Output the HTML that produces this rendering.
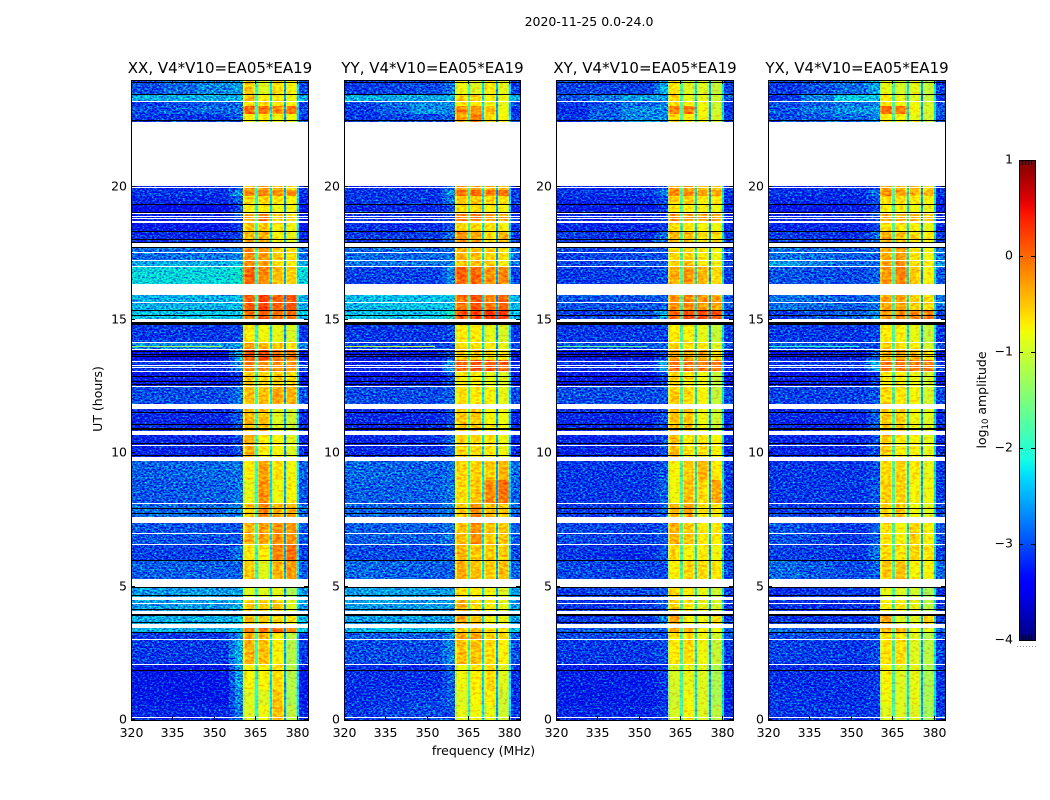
<!DOCTYPE html>
<html>
<head>
<meta charset="utf-8">
<title>2020-11-25 0.0-24.0</title>
<style>
html,body{margin:0;padding:0;background:#fff;width:1050px;height:800px;overflow:hidden}
svg{display:block}
text{font-family:"DejaVu Sans","Liberation Sans",sans-serif;fill:#000}
</style>
</head>
<body>
<svg id="figure" width="1050" height="800" viewBox="0 0 1050 800" xmlns="http://www.w3.org/2000/svg">
  <defs>
    <filter id="speckle" x="0" y="0" width="1" height="1" color-interpolation-filters="sRGB">
      <feTurbulence type="fractalNoise" baseFrequency="0.42 0.62" numOctaves="2" seed="7" result="n"/>
      <feColorMatrix in="n" type="matrix" values="0 0 0 0 .5  1 0 0 0 0  0 0 0 0 .5  0 0 0 0 1" result="g"/>
      <feComposite in="SourceGraphic" in2="g" operator="arithmetic" k1="0" k2="1" k3="2" k4="-1.1" result="m"/>
      <feComposite in="m" in2="SourceAlpha" operator="in"/>
    </filter>
    <filter id="speckle-soft" x="0" y="0" width="1" height="1" color-interpolation-filters="sRGB">
      <feTurbulence type="fractalNoise" baseFrequency="0.25 0.4" numOctaves="2" seed="11" result="n"/>
      <feColorMatrix in="n" type="matrix" values="0 0 0 0 .5  1 0 0 0 0  0 0 0 0 .5  0 0 0 0 1" result="g"/>
      <feComposite in="SourceGraphic" in2="g" operator="arithmetic" k1="0" k2="1" k3="0.8" k4="-0.4" result="m"/>
      <feComposite in="m" in2="SourceAlpha" operator="in"/>
    </filter>
    <linearGradient id="cbar-gradient" x1="0" y1="1" x2="0" y2="0"></linearGradient>
  </defs>
  <text x="589" y="26" font-size="12.5" text-anchor="middle">2020-11-25 0.0-24.0</text>
  <text transform="translate(102,399) rotate(-90)" font-size="12.5" text-anchor="middle">UT (hours)</text>
  <text x="483.5" y="755" font-size="12.5" text-anchor="middle">frequency (MHz)</text>
  <text transform="translate(986,400) rotate(-90)" font-size="12.5" text-anchor="middle">log<tspan font-size="8.5" dy="2">10</tspan><tspan dy="-2"> amplitude</tspan></text>
  <g id="panels"></g>
  <g id="colorbar"></g>
</svg>
<script>
// ---- chart data ----
const polarizations = ["XX", "YY", "XY", "YX"];
const baselineLabel = ", V4*V10=EA05*EA19";
const freqTicks = [320, 335, 350, 365, 380];
const hourTicks = [0, 5, 10, 15, 20];
const cbarTicks = [1, 0, -1, -2, -3, -4];

// time rows (UT hours); anything not covered stays white (flagged)
const rowStart = [0,.56,1.125,2.1,3.0,3.3,3.6,4.09,4.61,5.29,6.0,6.6,7.61,8.14,9.0,9.86,10.84,11.85,12.525,13.09,13.5,13.91,14.175,15.04,15.34,16.35,16.99,17.25,17.93,18.34,18.675,19.05,19.35,19.65,19.875,22.43,22.73,23.03,23.21,23.475];
const rowEnd = [.56,1.125,2.1,3.0,3.3,3.45,3.975,4.5,4.99,6.0,6.6,7.39,8.14,9.0,9.71,10.69,11.66,12.525,13.09,13.5,13.91,14.175,14.81,15.34,15.94,16.99,17.25,17.74,18.34,18.675,19.05,19.35,19.65,19.875,20.03,22.73,23.03,23.21,23.475,24];

// frequency columns (MHz); each shows the mean of two row values (sources A and B) plus a shape offset
const colStart = [320,332,344,355.5,357.5,360.5,361.1,364.4,365,365.8,366.3,369.7,370.2,371,371.5,374.7,375.2,376,376.5,379.5,380,380.6];
const colEnd = [332,344,355.5,357.5,360.5,361.1,364.4,365,365.8,366.3,369.7,370.2,371,371.5,374.7,375.2,376,376.5,379.5,380,380.6,384];
const colSourceA = [0,0,1,1,2,3,3,3,-1,4,4,4,-1,5,5,5,-1,6,6,6,-1,0];
const colSourceB = [0,1,1,2,2,3,3,3,-1,4,4,4,-1,5,5,5,-1,6,6,6,-1,0];
const colOffset = [0,0,0,0,0,-.3,0,-.2,-1.9,-.25,0,-.2,-2.3,-.25,0,-.2,-2.6,-.25,0,-.2,-2.3,0];

// log10 amplitude per row: bg 320-338, bg 338-355, bg 355-360, spw1, spw2, spw3, spw4
const ampXX = [
[-3.1,-3.1,-2.7,-.9,-.8,-.45,-1.1],[-3.2,-3.2,-2.6,-.9,-.9,-.5,-1.2],[-3.2,-3.2,-2.5,-.75,-.75,-.6,-1.15],[-3,-3,-2.4,-.4,-.45,-.75,-1.15],
[-3,-3,-2.6,-.35,-.4,-.75,-1.1],[-2.4,-2.4,-2.3,-.1,-.05,0,-.2],[-2.4,-2.4,-2.3,-.45,-.5,-.6,-.7],[-2.5,-2.5,-2.4,-.5,-.55,-.5,-.9],
[-2.5,-2.5,-2.5,-.9,-.9,-.85,-1.2],[-2.8,-2.8,-2.8,-.5,-.9,-.4,-.25],[-2.95,-2.95,-2.7,-.7,-.7,-.15,-.05],[-2.85,-2.85,-2.85,-.4,-.3,-.2,-.25],
[-2.75,-2.75,-2.6,-.5,-.15,-.35,-.4],[-2.85,-2.8,-2.7,-.85,-.2,-.8,-.75],[-2.8,-2.75,-2.7,-.7,-.3,-.65,-.8],[-3.1,-3.1,-2.9,-.35,-.7,-.75,-.9],
[-3.1,-3.1,-2.8,-.4,-.45,-.9,-1],[-2.9,-2.9,-2.7,-.45,-.45,-.3,-.4],[-3.2,-3.2,-3,-.5,-.6,-.5,-.6],[-3,-3,-2.6,-.1,-.15,-.2,-.25],
[-3.3,-3.3,-2.4,.15,.15,-.05,-.1],[-2.6,-2.6,-2.5,-.3,-.4,-.5,-.6],[-3,-3,-2.9,-.7,-.8,-.85,-.95],[-2.3,-2.3,-2.3,-.05,.1,-.05,-.05],
[-2.4,-2.4,-2.3,.05,.2,.05,.1],[-2.2,-2.2,-2.1,.05,-.15,-.45,-.55],[-2.45,-2.4,-2.3,-.2,-.3,-.6,-.7],[-2.75,-2.7,-2.6,-.2,-.25,-.5,-.6],
[-3.1,-3.1,-2.9,-.4,-.35,-.75,-.85],[-3.2,-3.2,-3,-.5,-.5,-.7,-.8],[-3.15,-3.15,-2.9,-.35,-.1,-.5,-.6],[-3.3,-3.3,-3,-.7,-.7,-.8,-.8],
[-3.1,-3.1,-2.8,-.6,-.55,-.65,-.75],[-3,-3,-2.5,-.1,-.1,-.2,-.2],[-3.1,-3.1,-2.9,-.4,-.3,-.5,-.6],[-3,-3,-2.8,-.7,-.7,-.8,-.8],
[-2.9,-2.75,-2.7,0,-.05,-.15,-.1],[-3,-2.8,-2.8,-.6,-.6,-.7,-.7],[-2.4,-2.4,-2.4,-.45,-.7,-.7,-.8],[-2.9,-2.6,-2.5,-.5,-.9,-.6,-.75]];
const ampYY = [
[-3,-2.9,-2.9,-.85,-.8,-.85,-1],[-3.05,-2.95,-2.8,-.9,-.75,-.7,-1],[-3.05,-3.05,-2.8,-.8,-.7,-.6,-.9],[-2.9,-2.9,-2.6,-.45,-.45,-.6,-.7],
[-2.8,-2.8,-2.6,-.3,-.3,-.55,-.6],[-2.3,-2.3,-2.3,-.5,-.5,-.6,-.7],[-2.5,-2.5,-2.5,-.3,-.5,-.75,-.8],[-2.5,-2.5,-2.5,-.35,-.6,-.7,-.85],
[-2.5,-2.5,-2.5,-.6,-.7,-.75,-.9],[-2.75,-2.8,-2.8,-.35,-.45,-.5,-.45],[-2.9,-2.9,-2.8,-.4,-.5,-.5,-.55],[-2.8,-2.8,-2.7,-.45,-.2,-.5,-.5],
[-2.8,-2.8,-2.7,-.5,-.2,-.4,-.45],[-2.8,-2.8,-2.7,-.6,-.5,-.15,-.05],[-2.75,-2.8,-2.7,-.55,-.55,-.5,-.4],[-3.1,-3.05,-2.8,-.55,-.6,-.65,-.8],
[-3.1,-3.1,-2.9,-.5,-.5,-.75,-.8],[-2.9,-2.9,-2.8,-.6,-.7,-.75,-.85],[-3.2,-3.2,-2.9,-.7,-.7,-.85,-.9],[-3.1,-3.1,-2.5,.05,.1,.1,.05],
[-3.2,-3.2,-2.9,-.5,-.5,-.6,-.7],[-2.9,-2.9,-2.9,-.6,-.65,-.7,-.85],[-3,-3,-2.9,-.7,-.7,-.85,-.95],[-2.3,-2.3,-2,.15,.25,.3,.25],
[-2.35,-2.3,-2.3,-.05,.1,-.05,0],[-2.95,-2.95,-2.6,.05,0,-.2,-.15],[-2.7,-2.7,-2.6,-.5,-.45,-.5,-.7],[-2.75,-2.75,-2.7,-.4,-.45,-.55,-.65],
[-3,-3,-2.7,-.2,-.35,-.6,-.4],[-3.05,-3.05,-2.9,-.55,-.55,-.65,-.75],[-3.05,-3.05,-2.9,-.1,-.1,-.3,-.35],[-3.1,-3.1,-2.9,-.6,-.6,-.7,-.75],
[-3,-3,-2.7,-.5,-.5,-.55,-.65],[-3,-3,-2.5,-.05,-.05,-.1,-.05],[-3.1,-3.1,-2.8,-.3,-.3,-.4,-.45],[-3,-2.9,-2.8,-.3,-.1,-.6,-.75],
[-3,-2.55,-2.6,-.15,-.25,-.45,-.8],[-2.9,-2.6,-2.6,-.7,-.7,-.8,-.85],[-2.4,-2.45,-2.4,-.5,-.6,-.75,-.8],[-3,-2.9,-2.7,-.8,-.9,-.7,-.85]];
const ampXY = [
[-3.1,-3.1,-3,-.95,-.75,-.9,-1.1],[-3.15,-3.15,-3,-1,-.8,-.9,-1.2],[-3.15,-3.15,-3,-.95,-.85,-.9,-1.2],[-3,-3,-2.9,-.7,-.6,-.8,-1.05],
[-2.9,-2.9,-2.85,-.65,-.6,-.8,-1],[-2.8,-2.85,-2.8,-.35,-.35,-.75,-.8],[-3,-3,-2.6,-.3,-.75,-.8,-.65],[-3,-3,-2.8,-.55,-.65,-.85,-.95],
[-3,-2.9,-2.8,-.55,-.7,-.85,-1],[-2.9,-2.95,-2.9,-.75,-.55,-.6,-.65],[-3,-3.05,-2.85,-.6,-.75,-.7,-.8],[-2.9,-2.95,-2.85,-.4,-.5,-.7,-.7],
[-3,-3,-2.8,-.4,-.3,-.65,-.7],[-3,-3,-2.8,-.8,-.45,-.6,-.35],[-3,-3,-2.85,-.75,-.5,-.4,-.7],[-3.1,-3.1,-2.9,-.45,-.65,-.65,-.75],
[-3.1,-3.1,-2.9,-.45,-.5,-.8,-1],[-2.9,-2.9,-2.85,-.5,-.6,-.75,-1.05],[-3.2,-3.2,-3,-.55,-.65,-.8,-1.05],[-3.05,-3.05,-2.5,-.05,-.05,-.1,-.1],
[-3.25,-3.25,-2.9,-.3,-.3,-.35,-.6],[-2.85,-2.85,-2.8,-.55,-.6,-.65,-.9],[-3,-3,-2.95,-.7,-.75,-.85,-1.05],[-3,-2.9,-2.4,.05,.2,.2,.15],
[-2.85,-2.85,-2.8,-.2,-.15,-.25,-.3],[-3,-2.95,-2.85,-.35,-.25,-.4,-.6],[-2.95,-2.85,-2.8,-.55,-.45,-.65,-.8],[-2.95,-2.9,-2.85,-.6,-.55,-.7,-.8],
[-3,-3.05,-2.7,-.4,-.45,-.6,-.65],[-3.1,-3.1,-3,-.6,-.65,-.75,-.8],[-3.1,-3.1,-2.9,-.2,-.25,-.3,-.35],[-3.2,-3.2,-3,-.7,-.7,-.75,-.8],
[-3.1,-3.1,-2.9,-.55,-.55,-.7,-.7],[-3,-3,-2.6,-.15,-.15,-.3,-.3],[-3.1,-3.1,-2.9,-.3,-.35,-.5,-.5],[-3,-2.6,-2.6,-.6,-.7,-.8,-.95],
[-3.05,-2.6,-2.6,-.15,-.1,-.75,-1],[-3,-2.75,-2.65,-.6,-.75,-.8,-1],[-2.85,-2.5,-2.5,-.6,-.85,-.85,-1],[-2.95,-2.95,-2.4,-.65,-.9,-.9,-1.05]];
const ampYX = [
[-3,-3,-3,-.9,-.9,-.9,-1.25],[-3,-3.05,-3,-.8,-.9,-.85,-1.2],[-3.05,-3.05,-3,-.75,-.9,-.85,-1.2],[-2.95,-3,-2.9,-.65,-.6,-.9,-1.1],
[-2.9,-2.9,-2.85,-.6,-.65,-.9,-1.15],[-2.75,-2.85,-2.8,-.4,-.35,-.8,-.85],[-3,-3,-2.9,-.3,-.9,-.9,-.55],[-3.05,-3.05,-3,-.7,-.65,-.85,-1.1],
[-3.05,-3,-3,-.85,-.9,-1,-1.2],[-2.75,-2.9,-2.8,-.5,-.45,-.75,-.75],[-2.95,-3,-2.7,-.6,-.65,-.6,-.65],[-2.85,-3,-2.8,-.65,-.75,-.55,-.75],
[-2.95,-3,-2.85,-.55,-.5,-.8,-.9],[-3,-3,-2.85,-.55,-.55,-.75,-.8],[-3,-3,-2.9,-.6,-.55,-.7,-.85],[-3.1,-3.1,-2.9,-.5,-.7,-.75,-.85],
[-3.1,-3.1,-2.8,-.5,-.55,-.8,-.9],[-2.95,-2.95,-2.85,-.6,-.65,-.75,-.95],[-3.2,-3.2,-3,-.7,-.7,-.8,-.95],[-3,-3,-2.4,-.05,-.05,-.1,-.1],
[-3.2,-3.2,-2.8,-.4,-.3,-.4,-.6],[-2.85,-2.9,-2.9,-.55,-.6,-.7,-.95],[-3,-3,-2.9,-.7,-.75,-.85,-1.05],[-3,-2.8,-2.55,-.2,-.15,-.15,-.05],
[-2.7,-2.8,-2.7,-.3,-.3,-.55,-.6],[-2.85,-2.9,-2.8,-.25,-.15,-.5,-.75],[-2.5,-2.75,-2.75,-.3,-.2,-.6,-.7],[-2.7,-2.8,-2.8,-.35,-.3,-.65,-.8],
[-3,-3.05,-2.7,-.35,-.45,-.6,-.7],[-3.1,-3.1,-2.95,-.65,-.7,-.75,-.85],[-3.1,-3.1,-2.9,-.3,-.35,-.4,-.5],[-3.2,-3.2,-3,-.75,-.75,-.8,-.85],
[-3.1,-3.1,-2.9,-.6,-.6,-.7,-.75],[-3,-3.05,-2.65,-.2,-.3,-.4,-.4],[-3.1,-3.1,-2.9,-.35,-.45,-.5,-.55],[-2.9,-2.75,-2.65,-.7,-.75,-.85,-1],
[-2.85,-2.55,-2.5,0,-.1,-.75,-.95],[-2.9,-2.7,-2.6,-.7,-.8,-.8,-.95],[-3,-2.25,-2.3,-.7,-.85,-.9,-1.05],[-3,-2.75,-2.4,-.85,-.95,-.85,-1.05]];

// thin flagged integrations (UT hours)
const whiteLines = [.1,2.09,3.03,4.38,6.6,7.0,8.13,10.31,12.53,13.09,13.24,13.32,13.47,13.92,14.16,15.69,17.01,17.24,17.54,18.675,18.71,18.825,18.9,19.01,19.98,23.2];
const blackLines = [1.86,3.29,3.68,3.94,3.97,4.17,4.68,4.98,5.99,7.75,7.94,9.93,10.39,10.93,10.96,11.1,11.54,12.6,12.72,12.9,13.65,13.74,13.84,14.85,14.89,14.93,15.18,15.36,17.72,17.91,18.04,18.35,19.06,19.34,22.5,23.46,23.93];
// narrow interference streak seen below 355 MHz
const rfiHours = [14.03];
const rfiLevels = [-1.3, -1.1, -1.7, -2.0];

// ---- layout ----
const panelLeft = [131, 344, 556, 768];
const panelWidth = [177, 176, 177, 177];
const plotTop = 80, plotBottom = 720;
const cbarLeft = 1019, cbarRight = 1035, cbarTop = 160, cbarBottom = 640;
const ampByPanel = [ampXX, ampYY, ampXY, ampYX];
const NS = "http://www.w3.org/2000/svg";

function xScale(p, f) { return panelLeft[p] + (f - 320) / 64 * panelWidth[p]; }
function yScale(h) { return plotBottom - h / 24 * (plotBottom - plotTop); }
function cbarScale(v) { return cbarBottom - (v + 4) / 5 * (cbarBottom - cbarTop); }

function lerpStops(stops, t) {
  for (let i = 1; i < stops.length; i++) {
    if (t <= stops[i][0]) {
      const a = stops[i - 1], b = stops[i];
      return a[1] + (b[1] - a[1]) * (t - a[0]) / (b[0] - a[0]);
    }
  }
  return stops[stops.length - 1][1];
}
function jet(v) {
  const t = Math.max(0, Math.min(1, (v + 4) / 5));
  const r = lerpStops([[0,0],[.35,0],[.66,1],[.89,1],[1,.5]], t);
  const g = lerpStops([[0,0],[.125,0],[.375,1],[.64,1],[.91,0],[1,0]], t);
  const b = lerpStops([[0,.5],[.11,1],[.34,1],[.65,0],[1,0]], t);
  return "rgb(" + Math.round(r * 255) + "," + Math.round(g * 255) + "," + Math.round(b * 255) + ")";
}
function make(tag, attrs, parent) {
  const el = document.createElementNS(NS, tag);
  for (const k in attrs) el.setAttribute(k, attrs[k]);
  parent.appendChild(el);
  return el;
}

const panelsRoot = document.getElementById("panels");

polarizations.forEach(function (pol, p) {
  const L = panelLeft[p], R = L + panelWidth[p];
  const panel = make("g", {}, panelsRoot);
  
  

  const title = make("text", { x: (L + R) / 2 + 0.5, y: 73, "font-size": 15, "text-anchor": "middle" }, panel);
  
  
  title.textContent = pol + baselineLabel;

  const heatBg = make("g", { filter: "url(#speckle)", "shape-rendering": "crispEdges" }, panel);
  
  
  const heatSpw = make("g", { filter: "url(#speckle-soft)", "shape-rendering": "crispEdges" }, panel);
  
  
  const values = ampByPanel[p];
  rowStart.forEach(function (start, r) {
    const y0 = Math.round(yScale(rowEnd[r]));
    const y1 = Math.round(yScale(start));
    colStart.forEach(function (fs, c) {
      const x0 = Math.round(xScale(p, fs));
      const x1 = Math.round(xScale(p, colEnd[c]));
      if (x1 <= x0 || y1 <= y0) return;
      const a = colSourceA[c], b = colSourceB[c];
      const v = a < 0 ? colOffset[c] : (values[r][a] + values[r][b]) / 2 + colOffset[c];
      const target = (fs >= 360.5 && fs < 380.6) ? heatSpw : heatBg;
      const cell = make("rect", { x: x0, y: y0, width: x1 - x0, height: y1 - y0, fill: jet(v) }, target);
      
      
    });
  });

  const lines = make("g", { "shape-rendering": "crispEdges" }, panel);
  
  
  rfiHours.forEach(function (h) {
    const s = make("rect", { x: L, y: Math.round(yScale(h)), width: xScale(p, 353) - L, height: 1, fill: jet(rfiLevels[p]) }, lines);
    
    
  });
  whiteLines.forEach(function (h) {
    const w = make("rect", { x: L, y: Math.round(yScale(h)), width: R - L, height: 1, fill: "#fff" }, lines);
    
    
  });
  blackLines.forEach(function (h) {
    const b = make("rect", { x: L, y: Math.round(yScale(h)), width: R - L, height: 1, fill: "#000" }, lines);
    
    
  });

  const axes = make("g", { "shape-rendering": "crispEdges", stroke: "#000", "stroke-width": 1 }, panel);
  
  
  freqTicks.forEach(function (f) {
    const x = Math.round(xScale(p, f)) + 0.5;
    make("line", { x1: x, x2: x, y1: plotBottom, y2: plotBottom - 4 }, axes);
    make("line", { x1: x, x2: x, y1: plotTop, y2: plotTop + 4 }, axes);
    const t = make("text", { x: x, y: 737, "font-size": 12.5, "text-anchor": "middle", stroke: "none" }, panel);
    
    
    t.textContent = f;
  });
  hourTicks.forEach(function (h) {
    const y = Math.round(yScale(h)) - 0.5;
    make("line", { x1: L, x2: L + 4, y1: y, y2: y }, axes);
    make("line", { x1: R, x2: R - 4, y1: y, y2: y }, axes);
    const t = make("text", { x: L - 4, y: y + 4, "font-size": 12.5, "text-anchor": "end", stroke: "none" }, panel);
    
    
    t.textContent = h;
  });
  const frame = make("rect", { x: L + 0.5, y: plotTop + 0.5, width: R - L, height: plotBottom - plotTop, fill: "none", stroke: "#000", "stroke-width": 1, "shape-rendering": "crispEdges" }, panel);
  
  
});

// ---- colorbar ----
const grad = document.getElementById("cbar-gradient");
for (let i = 0; i <= 50; i++) {
  make("stop", { offset: (i / 50), "stop-color": jet(-4 + i / 10) }, grad);
}
const cbar = document.getElementById("colorbar");
const bar = make("rect", { x: cbarLeft, y: cbarTop, width: cbarRight - cbarLeft, height: cbarBottom - cbarTop, fill: "url(#cbar-gradient)" }, cbar);


const cbarFrame = make("rect", { x: cbarLeft + 0.5, y: cbarTop + 0.5, width: cbarRight - cbarLeft, height: cbarBottom - cbarTop, fill: "none", stroke: "#000", "stroke-width": 1, "shape-rendering": "crispEdges" }, cbar);


cbarTicks.forEach(function (v) {
  const y = Math.round(cbarScale(v));
  const t = make("text", { x: 1013, y: y + 3.5, "font-size": 12.5, "text-anchor": "end" }, cbar);
  
  
  t.textContent = String(v).replace("-", "\u2212");
  if (v > -4 && v < 1) {
    make("line", { x1: cbarLeft, x2: cbarLeft + 4, y1: y + 0.5, y2: y + 0.5, stroke: "#000", "shape-rendering": "crispEdges" }, cbar);
    make("line", { x1: cbarRight, x2: cbarRight - 4, y1: y + 0.5, y2: y + 0.5, stroke: "#000", "shape-rendering": "crispEdges" }, cbar);
  }
});
for (let i = 1; i <= 4; i++) {
  const x = cbarLeft + i * 3 + 0.5;
  make("line", { x1: x, x2: x, y1: cbarTop, y2: cbarTop + 5, stroke: "#000", "shape-rendering": "crispEdges" }, cbar);
  make("line", { x1: x, x2: x, y1: cbarBottom, y2: cbarBottom - 5, stroke: "#000", "shape-rendering": "crispEdges" }, cbar);
}
for (let i = 0; i < 7; i++) {
  make("rect", { x: 1017 + i * 3, y: 646, width: 1, height: 1, fill: "#999" }, cbar);
}
</script>
</body>
</html>
